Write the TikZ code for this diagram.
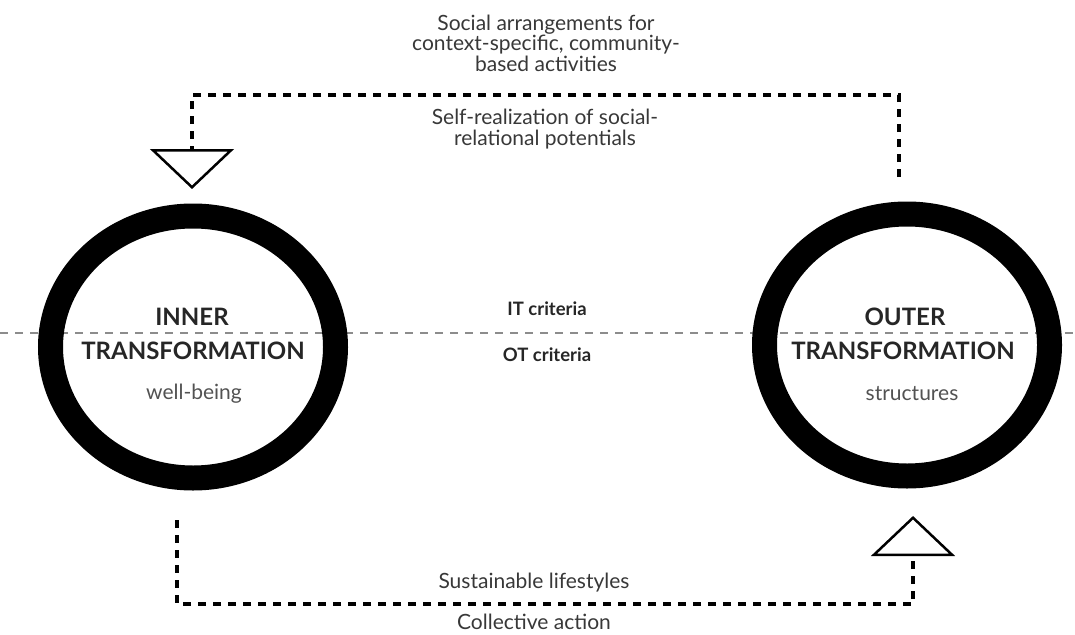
\documentclass[tikz,border=0pt]{standalone}
\usepackage{fontspec}
\setmainfont{Lato}
\usetikzlibrary{positioning,shapes.geometric}

\begin{document}
\begin{tikzpicture}[x=1pt,y=-1pt,
  loop/.style={draw=black,ellipse,line width=25pt,minimum width=285pt,minimum height=262pt,inner sep=0pt},
  title/.style={font=\fontsize{24}{26}\selectfont\bfseries,text=black!85},
  sub/.style={font=\fontsize{21}{22}\selectfont,text=black!68},
  lab/.style={font=\fontsize{21}{20.5}\selectfont,text=black!78,align=center},
  crit/.style={font=\fontsize{18.5}{20}\selectfont\bfseries,text=black!85},
  flow/.style={line width=4pt,dash pattern=on 8pt off 7pt},
  head/.style={draw,isosceles triangle,isosceles triangle stretches,line width=2.5pt,fill=white,minimum width=78pt,minimum height=37pt,inner sep=0pt},
  axis/.style={draw=black!45,line width=1.5pt,dash pattern=on 8pt off 7pt}]
\useasboundingbox (0,0) rectangle (1075,634);

% horizontal divide, under the two loops
\coordinate (axL) at (0,333);
\coordinate (axR) at (1075,333);
\draw[axis] (axL) -- (axR);

\node[loop] (it) at (193,347) {};
\node[loop] (ot) at (907,345) {};

\node[title] (itA) at (192,317) {INNER};
\node[title] (itB) at (193,351) {TRANSFORMATION};
\node[sub] (itC) at (194,394) {well-being};
\node[title] (otA) at (905,317) {OUTER};
\node[title] (otB) at (903,351) {TRANSFORMATION};
\node[sub] (otC) at (912,394) {structures};

\node[crit] (itcrit) at (547,309) {IT criteria};
\node[crit] (otcrit) at (547,355) {OT criteria};

% feedback arrows
\node[head,shape border rotate=270,anchor=north] (hdown) at (192,149) {};
\node[head,shape border rotate=90,anchor=south] (hup) at (913,556) {};
\coordinate (topend) at (899,177);
\coordinate (botend) at (177,520);
\draw[flow] (topend) -- ++(0,-82) -| (hdown.north);
\draw[flow] (botend) -- ++(0,84) -| (hup.south);

\node[lab] (social) at (546,43) {Social arrangements for\\context-specific, community-\\based activities};
\node[lab] (self) at (545,129) {Self-realization of social-\\relational potentials};
\node[lab] (life) at (534,583) {Sustainable lifestyles};
\node[lab] (coll) at (534,622) {Collective action};
\end{tikzpicture}
\end{document}
